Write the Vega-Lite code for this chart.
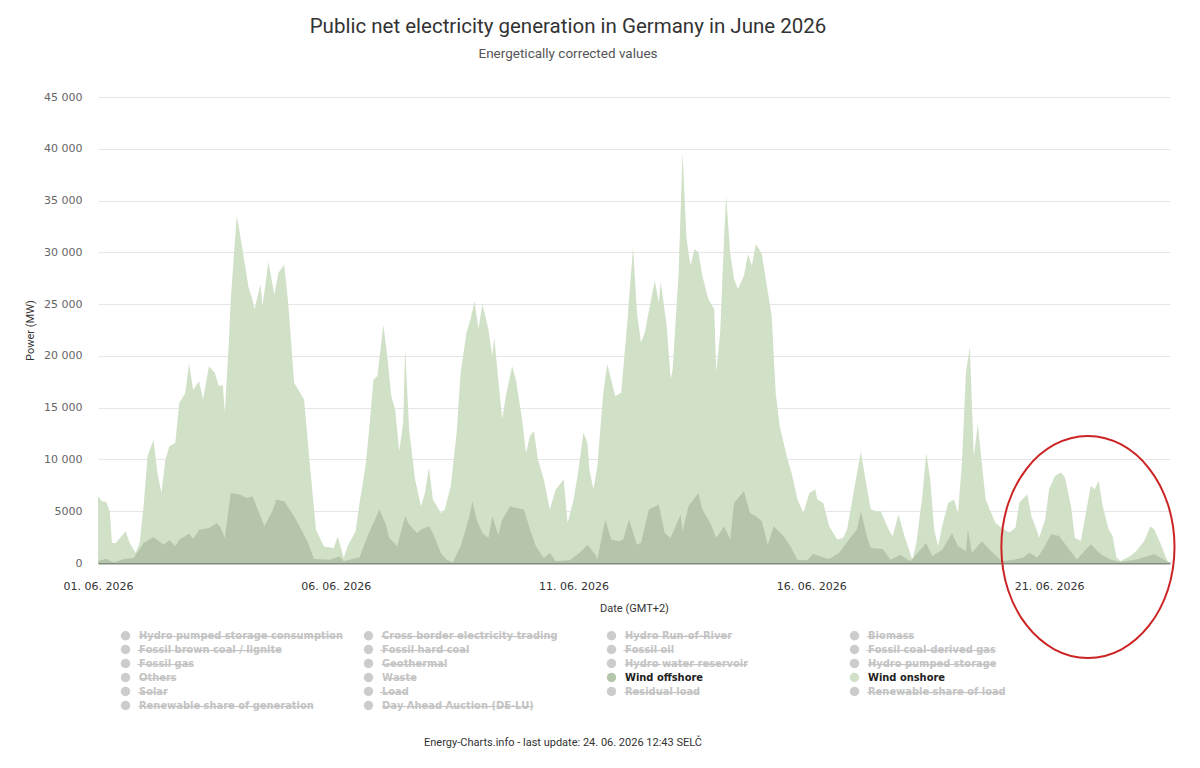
{
  "$schema": "https://vega.github.io/schema/vega-lite/v6.json",
  "width": 1072,
  "height": 466,
  "autosize": {"type": "none"},
  "padding": {"left": 98, "top": 97, "right": 30, "bottom": 205},
  "background": "white",
  "title": {
    "text": "Public net electricity generation in Germany in June 2026",
    "subtitle": "Energetically corrected values",
    "font": "Roboto",
    "fontSize": 20.5,
    "fontWeight": "normal",
    "color": "#333333",
    "subtitleFont": "Roboto",
    "subtitleFontSize": 13.5,
    "subtitleColor": "#555555",
    "subtitlePadding": 9,
    "anchor": "middle",
    "dx": -66,
    "offset": 31
  },
  "datasets": {
    "wind": [
      {"t": "2026-06-01T00:00", "mw": 6440}, {"t": "2026-06-01T02:00", "mw": 5950}, {"t": "2026-06-01T04:00", "mw": 5950},
      {"t": "2026-06-01T06:00", "mw": 5000}, {"t": "2026-06-01T07:00", "mw": 1930}, {"t": "2026-06-01T09:00", "mw": 1930},
      {"t": "2026-06-01T14:00", "mw": 3060}, {"t": "2026-06-01T16:00", "mw": 1930}, {"t": "2026-06-01T19:00", "mw": 970},
      {"t": "2026-06-01T21:00", "mw": 1930}, {"t": "2026-06-01T23:00", "mw": 5470}, {"t": "2026-06-02T01:00", "mw": 10300},
      {"t": "2026-06-02T04:00", "mw": 11900}, {"t": "2026-06-02T06:00", "mw": 8700}, {"t": "2026-06-02T08:00", "mw": 6760},
      {"t": "2026-06-02T10:00", "mw": 9980}, {"t": "2026-06-02T12:00", "mw": 11270}, {"t": "2026-06-02T15:00", "mw": 11600},
      {"t": "2026-06-02T17:00", "mw": 15450}, {"t": "2026-06-02T20:00", "mw": 16400}, {"t": "2026-06-02T22:00", "mw": 19300},
      {"t": "2026-06-03T00:00", "mw": 16700}, {"t": "2026-06-03T03:00", "mw": 17550}, {"t": "2026-06-03T05:00", "mw": 15800},
      {"t": "2026-06-03T08:00", "mw": 19000}, {"t": "2026-06-03T11:00", "mw": 18350}, {"t": "2026-06-03T13:00", "mw": 17060},
      {"t": "2026-06-03T15:00", "mw": 17200}, {"t": "2026-06-03T16:00", "mw": 14500}, {"t": "2026-06-03T18:00", "mw": 21250},
      {"t": "2026-06-03T19:00", "mw": 25400}, {"t": "2026-06-03T22:00", "mw": 33500}, {"t": "2026-06-03T23:00", "mw": 32500},
      {"t": "2026-06-04T02:00", "mw": 29000}, {"t": "2026-06-04T04:00", "mw": 26600}, {"t": "2026-06-04T06:00", "mw": 25400},
      {"t": "2026-06-04T07:00", "mw": 24500}, {"t": "2026-06-04T10:00", "mw": 26900}, {"t": "2026-06-04T11:00", "mw": 24800},
      {"t": "2026-06-04T14:00", "mw": 29100}, {"t": "2026-06-04T17:00", "mw": 25900}, {"t": "2026-06-04T19:00", "mw": 28000},
      {"t": "2026-06-04T22:00", "mw": 28800}, {"t": "2026-06-05T00:00", "mw": 25100}, {"t": "2026-06-05T03:00", "mw": 17400},
      {"t": "2026-06-05T08:00", "mw": 15800}, {"t": "2026-06-05T11:00", "mw": 9340}, {"t": "2026-06-05T14:00", "mw": 3220},
      {"t": "2026-06-05T18:00", "mw": 1600}, {"t": "2026-06-05T23:00", "mw": 1450}, {"t": "2026-06-06T01:00", "mw": 2580},
      {"t": "2026-06-06T04:00", "mw": 480}, {"t": "2026-06-06T06:00", "mw": 1610}, {"t": "2026-06-06T10:00", "mw": 3060},
      {"t": "2026-06-06T12:00", "mw": 5800}, {"t": "2026-06-06T15:00", "mw": 9350}, {"t": "2026-06-06T17:00", "mw": 13200},
      {"t": "2026-06-06T19:00", "mw": 17700}, {"t": "2026-06-06T21:00", "mw": 18050}, {"t": "2026-06-07T00:00", "mw": 23000},
      {"t": "2026-06-07T02:00", "mw": 20000}, {"t": "2026-06-07T04:00", "mw": 16100}, {"t": "2026-06-07T06:00", "mw": 14800},
      {"t": "2026-06-07T08:00", "mw": 10800}, {"t": "2026-06-07T10:00", "mw": 13500}, {"t": "2026-06-07T11:00", "mw": 20800},
      {"t": "2026-06-07T13:00", "mw": 12900}, {"t": "2026-06-07T16:00", "mw": 8060}, {"t": "2026-06-07T19:00", "mw": 5480},
      {"t": "2026-06-07T21:00", "mw": 6770}, {"t": "2026-06-07T23:00", "mw": 9190}, {"t": "2026-06-08T01:00", "mw": 6130},
      {"t": "2026-06-08T05:00", "mw": 4840}, {"t": "2026-06-08T07:00", "mw": 5160}, {"t": "2026-06-08T10:00", "mw": 7420},
      {"t": "2026-06-08T13:00", "mw": 12580}, {"t": "2026-06-08T15:00", "mw": 18400}, {"t": "2026-06-08T18:00", "mw": 22260},
      {"t": "2026-06-08T20:00", "mw": 23550}, {"t": "2026-06-08T22:00", "mw": 25300}, {"t": "2026-06-09T00:00", "mw": 22600},
      {"t": "2026-06-09T02:00", "mw": 25000}, {"t": "2026-06-09T05:00", "mw": 22600}, {"t": "2026-06-09T07:00", "mw": 20000},
      {"t": "2026-06-09T08:00", "mw": 21800}, {"t": "2026-06-09T10:00", "mw": 17700}, {"t": "2026-06-09T12:00", "mw": 13870},
      {"t": "2026-06-09T14:00", "mw": 16300}, {"t": "2026-06-09T17:00", "mw": 19000}, {"t": "2026-06-09T19:00", "mw": 17600},
      {"t": "2026-06-09T22:00", "mw": 13870}, {"t": "2026-06-10T00:00", "mw": 10600}, {"t": "2026-06-10T02:00", "mw": 12260},
      {"t": "2026-06-10T04:00", "mw": 12740}, {"t": "2026-06-10T06:00", "mw": 10000}, {"t": "2026-06-10T09:00", "mw": 8060},
      {"t": "2026-06-10T12:00", "mw": 5160}, {"t": "2026-06-10T15:00", "mw": 7100}, {"t": "2026-06-10T19:00", "mw": 8060},
      {"t": "2026-06-10T21:00", "mw": 3870}, {"t": "2026-06-11T00:00", "mw": 6130}, {"t": "2026-06-11T02:00", "mw": 8390},
      {"t": "2026-06-11T05:00", "mw": 12580}, {"t": "2026-06-11T07:00", "mw": 11600}, {"t": "2026-06-11T08:00", "mw": 9030},
      {"t": "2026-06-11T10:00", "mw": 7100}, {"t": "2026-06-11T12:00", "mw": 9350}, {"t": "2026-06-11T15:00", "mw": 16450},
      {"t": "2026-06-11T17:00", "mw": 19200}, {"t": "2026-06-11T19:00", "mw": 17700}, {"t": "2026-06-11T21:00", "mw": 16100},
      {"t": "2026-06-12T00:00", "mw": 16450}, {"t": "2026-06-12T03:00", "mw": 22900}, {"t": "2026-06-12T06:00", "mw": 30500},
      {"t": "2026-06-12T08:00", "mw": 24200}, {"t": "2026-06-12T10:00", "mw": 21300}, {"t": "2026-06-12T12:00", "mw": 22260},
      {"t": "2026-06-12T14:00", "mw": 24360}, {"t": "2026-06-12T17:00", "mw": 27260}, {"t": "2026-06-12T19:00", "mw": 25160},
      {"t": "2026-06-12T20:00", "mw": 27100}, {"t": "2026-06-12T23:00", "mw": 22900}, {"t": "2026-06-13T01:00", "mw": 17740},
      {"t": "2026-06-13T02:00", "mw": 18700}, {"t": "2026-06-13T05:00", "mw": 28000}, {"t": "2026-06-13T07:00", "mw": 39700},
      {"t": "2026-06-13T09:00", "mw": 31300}, {"t": "2026-06-13T11:00", "mw": 28700}, {"t": "2026-06-13T13:00", "mw": 30300},
      {"t": "2026-06-13T15:00", "mw": 30000}, {"t": "2026-06-13T17:00", "mw": 27740}, {"t": "2026-06-13T20:00", "mw": 25500},
      {"t": "2026-06-13T23:00", "mw": 24500}, {"t": "2026-06-14T00:00", "mw": 18400}, {"t": "2026-06-14T02:00", "mw": 22260},
      {"t": "2026-06-14T04:00", "mw": 31600}, {"t": "2026-06-14T05:00", "mw": 35500}, {"t": "2026-06-14T07:00", "mw": 30000},
      {"t": "2026-06-14T09:00", "mw": 27400}, {"t": "2026-06-14T11:00", "mw": 26450}, {"t": "2026-06-14T14:00", "mw": 27740},
      {"t": "2026-06-14T16:00", "mw": 29840}, {"t": "2026-06-14T18:00", "mw": 28700}, {"t": "2026-06-14T20:00", "mw": 30800},
      {"t": "2026-06-14T23:00", "mw": 29840}, {"t": "2026-06-15T01:00", "mw": 27400}, {"t": "2026-06-15T04:00", "mw": 23870},
      {"t": "2026-06-15T06:00", "mw": 16450}, {"t": "2026-06-15T08:00", "mw": 13230}, {"t": "2026-06-15T12:00", "mw": 10000},
      {"t": "2026-06-15T14:00", "mw": 8710}, {"t": "2026-06-15T17:00", "mw": 6130}, {"t": "2026-06-15T20:00", "mw": 4840},
      {"t": "2026-06-15T23:00", "mw": 6770}, {"t": "2026-06-16T02:00", "mw": 7100}, {"t": "2026-06-16T03:00", "mw": 6130},
      {"t": "2026-06-16T06:00", "mw": 5800}, {"t": "2026-06-16T09:00", "mw": 3550}, {"t": "2026-06-16T13:00", "mw": 2260},
      {"t": "2026-06-16T16:00", "mw": 2420}, {"t": "2026-06-16T18:00", "mw": 3230}, {"t": "2026-06-16T21:00", "mw": 6450},
      {"t": "2026-06-17T01:00", "mw": 10800}, {"t": "2026-06-17T03:00", "mw": 8390}, {"t": "2026-06-17T06:00", "mw": 5160},
      {"t": "2026-06-17T09:00", "mw": 5000}, {"t": "2026-06-17T11:00", "mw": 5000}, {"t": "2026-06-17T15:00", "mw": 3230},
      {"t": "2026-06-17T17:00", "mw": 2580}, {"t": "2026-06-17T20:00", "mw": 4680}, {"t": "2026-06-17T23:00", "mw": 2580},
      {"t": "2026-06-18T03:00", "mw": 320}, {"t": "2026-06-18T05:00", "mw": 1940}, {"t": "2026-06-18T08:00", "mw": 6450},
      {"t": "2026-06-18T10:00", "mw": 10650}, {"t": "2026-06-18T12:00", "mw": 8060}, {"t": "2026-06-18T14:00", "mw": 3230},
      {"t": "2026-06-18T16:00", "mw": 1610}, {"t": "2026-06-18T18:00", "mw": 3550}, {"t": "2026-06-18T21:00", "mw": 5800},
      {"t": "2026-06-19T00:00", "mw": 6130}, {"t": "2026-06-19T02:00", "mw": 4840}, {"t": "2026-06-19T04:00", "mw": 9680},
      {"t": "2026-06-19T06:00", "mw": 18400}, {"t": "2026-06-19T08:00", "mw": 20800}, {"t": "2026-06-19T10:00", "mw": 10300},
      {"t": "2026-06-19T12:00", "mw": 13400}, {"t": "2026-06-19T14:00", "mw": 9680}, {"t": "2026-06-19T16:00", "mw": 6130},
      {"t": "2026-06-19T18:00", "mw": 5160}, {"t": "2026-06-19T21:00", "mw": 3870}, {"t": "2026-06-19T23:00", "mw": 3550},
      {"t": "2026-06-20T01:00", "mw": 3260}, {"t": "2026-06-20T04:00", "mw": 2940}, {"t": "2026-06-20T07:00", "mw": 3420},
      {"t": "2026-06-20T09:00", "mw": 5840}, {"t": "2026-06-20T13:00", "mw": 6650}, {"t": "2026-06-20T15:00", "mw": 4550},
      {"t": "2026-06-20T17:00", "mw": 3580}, {"t": "2026-06-20T19:00", "mw": 2450}, {"t": "2026-06-20T22:00", "mw": 4230},
      {"t": "2026-06-21T00:00", "mw": 7130}, {"t": "2026-06-21T03:00", "mw": 8420}, {"t": "2026-06-21T06:00", "mw": 8740},
      {"t": "2026-06-21T08:00", "mw": 8260}, {"t": "2026-06-21T11:00", "mw": 5520}, {"t": "2026-06-21T13:00", "mw": 2450},
      {"t": "2026-06-21T16:00", "mw": 2130}, {"t": "2026-06-21T18:00", "mw": 4230}, {"t": "2026-06-21T21:00", "mw": 7450},
      {"t": "2026-06-21T23:00", "mw": 7130}, {"t": "2026-06-22T01:00", "mw": 7940}, {"t": "2026-06-22T03:00", "mw": 5520},
      {"t": "2026-06-22T06:00", "mw": 3260}, {"t": "2026-06-22T08:00", "mw": 2610}, {"t": "2026-06-22T10:00", "mw": 520},
      {"t": "2026-06-22T12:00", "mw": 190}, {"t": "2026-06-22T17:00", "mw": 680}, {"t": "2026-06-22T20:00", "mw": 1160},
      {"t": "2026-06-23T00:00", "mw": 2130}, {"t": "2026-06-23T03:00", "mw": 3520}, {"t": "2026-06-23T05:00", "mw": 3260},
      {"t": "2026-06-23T08:00", "mw": 1970}, {"t": "2026-06-23T11:00", "mw": 520}, {"t": "2026-06-23T12:00", "mw": 100}
    ],
    "offshore": [
      {"t": "2026-06-01T00:00", "mw": 160}, {"t": "2026-06-01T04:00", "mw": 420}, {"t": "2026-06-01T08:00", "mw": 60},
      {"t": "2026-06-01T13:00", "mw": 390}, {"t": "2026-06-01T18:00", "mw": 480}, {"t": "2026-06-01T23:00", "mw": 1930},
      {"t": "2026-06-02T04:00", "mw": 2500}, {"t": "2026-06-02T09:00", "mw": 1770}, {"t": "2026-06-02T12:00", "mw": 2190},
      {"t": "2026-06-02T15:00", "mw": 1610}, {"t": "2026-06-02T17:00", "mw": 2250}, {"t": "2026-06-02T22:00", "mw": 2830},
      {"t": "2026-06-03T00:00", "mw": 2320}, {"t": "2026-06-03T03:00", "mw": 3220}, {"t": "2026-06-03T08:00", "mw": 3380},
      {"t": "2026-06-03T12:00", "mw": 3860}, {"t": "2026-06-03T14:00", "mw": 3380}, {"t": "2026-06-03T16:00", "mw": 2410},
      {"t": "2026-06-03T19:00", "mw": 6760}, {"t": "2026-06-04T00:00", "mw": 6600}, {"t": "2026-06-04T03:00", "mw": 6280},
      {"t": "2026-06-04T06:00", "mw": 6440}, {"t": "2026-06-04T09:00", "mw": 5000}, {"t": "2026-06-04T12:00", "mw": 3540},
      {"t": "2026-06-04T16:00", "mw": 5000}, {"t": "2026-06-04T18:00", "mw": 6120}, {"t": "2026-06-04T22:00", "mw": 5960},
      {"t": "2026-06-05T03:00", "mw": 4500}, {"t": "2026-06-05T07:00", "mw": 3060}, {"t": "2026-06-05T10:00", "mw": 1930},
      {"t": "2026-06-05T13:00", "mw": 390}, {"t": "2026-06-05T21:00", "mw": 320}, {"t": "2026-06-06T02:00", "mw": 640},
      {"t": "2026-06-06T04:00", "mw": 160}, {"t": "2026-06-06T12:00", "mw": 550}, {"t": "2026-06-06T16:00", "mw": 2580},
      {"t": "2026-06-06T19:00", "mw": 3870}, {"t": "2026-06-06T22:00", "mw": 5160}, {"t": "2026-06-07T01:00", "mw": 3870},
      {"t": "2026-06-07T03:00", "mw": 2420}, {"t": "2026-06-07T07:00", "mw": 1610}, {"t": "2026-06-07T11:00", "mw": 4520},
      {"t": "2026-06-07T13:00", "mw": 3710}, {"t": "2026-06-07T17:00", "mw": 2900}, {"t": "2026-06-07T19:00", "mw": 3230},
      {"t": "2026-06-07T23:00", "mw": 3550}, {"t": "2026-06-08T01:00", "mw": 2900}, {"t": "2026-06-08T05:00", "mw": 970},
      {"t": "2026-06-08T08:00", "mw": 320}, {"t": "2026-06-08T11:00", "mw": 60}, {"t": "2026-06-08T15:00", "mw": 1610},
      {"t": "2026-06-08T19:00", "mw": 4190}, {"t": "2026-06-08T21:00", "mw": 5970}, {"t": "2026-06-08T23:00", "mw": 4190},
      {"t": "2026-06-09T02:00", "mw": 2900}, {"t": "2026-06-09T05:00", "mw": 2420}, {"t": "2026-06-09T07:00", "mw": 4520},
      {"t": "2026-06-09T10:00", "mw": 2740}, {"t": "2026-06-09T12:00", "mw": 4190}, {"t": "2026-06-09T16:00", "mw": 5480},
      {"t": "2026-06-09T19:00", "mw": 5320}, {"t": "2026-06-09T23:00", "mw": 5160}, {"t": "2026-06-10T02:00", "mw": 3230},
      {"t": "2026-06-10T05:00", "mw": 1610}, {"t": "2026-06-10T09:00", "mw": 480}, {"t": "2026-06-10T12:00", "mw": 970},
      {"t": "2026-06-10T15:00", "mw": 160}, {"t": "2026-06-10T22:00", "mw": 260}, {"t": "2026-06-11T03:00", "mw": 970},
      {"t": "2026-06-11T07:00", "mw": 1770}, {"t": "2026-06-11T11:00", "mw": 800}, {"t": "2026-06-11T12:00", "mw": 320},
      {"t": "2026-06-11T16:00", "mw": 4190}, {"t": "2026-06-11T19:00", "mw": 2260}, {"t": "2026-06-11T23:00", "mw": 2100},
      {"t": "2026-06-12T01:00", "mw": 2260}, {"t": "2026-06-12T04:00", "mw": 4190}, {"t": "2026-06-12T08:00", "mw": 1770},
      {"t": "2026-06-12T10:00", "mw": 1940}, {"t": "2026-06-12T14:00", "mw": 5160}, {"t": "2026-06-12T19:00", "mw": 5650},
      {"t": "2026-06-12T22:00", "mw": 2900}, {"t": "2026-06-13T01:00", "mw": 2420}, {"t": "2026-06-13T06:00", "mw": 4680},
      {"t": "2026-06-13T07:00", "mw": 3060}, {"t": "2026-06-13T10:00", "mw": 5480}, {"t": "2026-06-13T15:00", "mw": 6770},
      {"t": "2026-06-13T17:00", "mw": 5160}, {"t": "2026-06-13T21:00", "mw": 3870}, {"t": "2026-06-14T00:00", "mw": 2420},
      {"t": "2026-06-14T04:00", "mw": 3550}, {"t": "2026-06-14T07:00", "mw": 2260}, {"t": "2026-06-14T09:00", "mw": 5800},
      {"t": "2026-06-14T14:00", "mw": 6940}, {"t": "2026-06-14T17:00", "mw": 4840}, {"t": "2026-06-14T20:00", "mw": 4520},
      {"t": "2026-06-14T23:00", "mw": 4030}, {"t": "2026-06-15T02:00", "mw": 1770}, {"t": "2026-06-15T05:00", "mw": 3550},
      {"t": "2026-06-15T10:00", "mw": 2580}, {"t": "2026-06-15T13:00", "mw": 1770}, {"t": "2026-06-15T17:00", "mw": 320},
      {"t": "2026-06-15T22:00", "mw": 260}, {"t": "2026-06-16T01:00", "mw": 900}, {"t": "2026-06-16T04:00", "mw": 650},
      {"t": "2026-06-16T09:00", "mw": 390}, {"t": "2026-06-16T14:00", "mw": 970}, {"t": "2026-06-16T19:00", "mw": 2260},
      {"t": "2026-06-16T23:00", "mw": 3230}, {"t": "2026-06-17T01:00", "mw": 5000}, {"t": "2026-06-17T04:00", "mw": 2580},
      {"t": "2026-06-17T06:00", "mw": 1450}, {"t": "2026-06-17T12:00", "mw": 1350}, {"t": "2026-06-17T16:00", "mw": 320},
      {"t": "2026-06-17T21:00", "mw": 800}, {"t": "2026-06-18T02:00", "mw": 160}, {"t": "2026-06-18T07:00", "mw": 1290},
      {"t": "2026-06-18T10:00", "mw": 1940}, {"t": "2026-06-18T13:00", "mw": 640}, {"t": "2026-06-18T18:00", "mw": 1290},
      {"t": "2026-06-18T23:00", "mw": 2900}, {"t": "2026-06-19T02:00", "mw": 1610}, {"t": "2026-06-19T06:00", "mw": 1130},
      {"t": "2026-06-19T07:00", "mw": 3230}, {"t": "2026-06-19T09:00", "mw": 970}, {"t": "2026-06-19T14:00", "mw": 2100},
      {"t": "2026-06-19T18:00", "mw": 1290}, {"t": "2026-06-19T23:00", "mw": 390}, {"t": "2026-06-20T01:00", "mw": 190},
      {"t": "2026-06-20T07:00", "mw": 350}, {"t": "2026-06-20T11:00", "mw": 520}, {"t": "2026-06-20T14:00", "mw": 1000},
      {"t": "2026-06-20T18:00", "mw": 520}, {"t": "2026-06-20T21:00", "mw": 1320}, {"t": "2026-06-21T01:00", "mw": 2770},
      {"t": "2026-06-21T05:00", "mw": 2610}, {"t": "2026-06-21T10:00", "mw": 1320}, {"t": "2026-06-21T14:00", "mw": 350},
      {"t": "2026-06-21T21:00", "mw": 1800}, {"t": "2026-06-22T02:00", "mw": 840}, {"t": "2026-06-22T07:00", "mw": 350},
      {"t": "2026-06-22T12:00", "mw": 100}, {"t": "2026-06-22T20:00", "mw": 350}, {"t": "2026-06-23T05:00", "mw": 840},
      {"t": "2026-06-23T10:00", "mw": 350}, {"t": "2026-06-23T12:00", "mw": 80}
    ],
    "marker": [
      {"t": "2026-06-21T19:35", "mw": 1545}
    ]
  },
  "encoding": {
    "x": {
      "field": "t",
      "type": "temporal",
      "scale": {
        "domain": [
          {"year": 2026, "month": 6, "date": 1},
          {"year": 2026, "month": 6, "date": 23, "hours": 13}
        ]
      },
      "axis": {
        "values": [
          {"year": 2026, "month": 6, "date": 1},
          {"year": 2026, "month": 6, "date": 6},
          {"year": 2026, "month": 6, "date": 11},
          {"year": 2026, "month": 6, "date": 16},
          {"year": 2026, "month": 6, "date": 21}
        ],
        "format": "%d. %m. %Y",
        "labelFlush": false,
        "labelFont": "DejaVu Sans",
        "labelFontSize": 11,
        "labelColor": "#333333",
        "labelPadding": 17,
        "ticks": false,
        "grid": false,
        "domainColor": "#7f8b7c",
        "domainWidth": 2,
        "title": "Date (GMT+2)",
        "titleFont": "Roboto",
        "titleFontSize": 11,
        "titleFontWeight": "normal",
        "titleColor": "#333333",
        "titlePadding": 11
      }
    },
    "y": {
      "field": "mw",
      "type": "quantitative",
      "scale": {"domain": [0, 45000], "nice": false},
      "axis": {
        "values": [0, 5000, 10000, 15000, 20000, 25000, 30000, 35000, 40000, 45000],
        "labelExpr": "datum.value >= 10000 ? replace(format(datum.value, ','), ',', ' ') : format(datum.value, 'd')",
        "labelFont": "DejaVu Sans",
        "labelFontSize": 11,
        "labelColor": "#666666",
        "labelPadding": 16,
        "ticks": false,
        "domain": false,
        "gridColor": "#e6e6e6",
        "title": "Power (MW)",
        "titleFont": "Roboto",
        "titleFontSize": 11,
        "titleFontWeight": "normal",
        "titleColor": "#333333",
        "titlePadding": 8
      }
    }
  },
  "layer": [
    {
      "data": {"name": "wind"},
      "mark": {"type": "area", "opacity": 1},
      "encoding": {
        "color": {
          "datum": "Wind onshore",
          "type": "nominal",
          "scale": {
            "domain": [
              "Hydro pumped storage consumption", "Cross border electricity trading", "Hydro Run-of-River", "Biomass",
              "Fossil brown coal / lignite", "Fossil hard coal", "Fossil oil", "Fossil coal-derived gas",
              "Fossil gas", "Geothermal", "Hydro water reservoir", "Hydro pumped storage",
              "Others", "Waste", "Wind offshore", "Wind onshore",
              "Solar", "Load", "Residual load", "Renewable share of load",
              "Renewable share of generation", "Day Ahead Auction (DE-LU)"
            ],
            "range": [
              "#cccccc", "#cccccc", "#cccccc", "#cccccc",
              "#cccccc", "#cccccc", "#cccccc", "#cccccc",
              "#cccccc", "#cccccc", "#cccccc", "#cccccc",
              "#cccccc", "#cccccc", "#b5c5ab", "#d0e1c8",
              "#cccccc", "#cccccc", "#cccccc", "#cccccc",
              "#cccccc", "#cccccc"
            ]
          },
          "legend": {
            "orient": "none",
            "legendX": 22,
            "legendY": 533,
            "direction": "horizontal",
            "columns": 4,
            "gridAlign": "all",
            "columnPadding": 20,
            "rowPadding": 2,
            "symbolType": "circle",
            "symbolSize": 90,
            "symbolStrokeWidth": 1.5,
            "labelFont": "DejaVu Sans Condensed, DejaVu Sans",
            "labelFontSize": 11,
            "labelFontWeight": "bold",
            "labelOffset": 8,
            "labelLimit": 0,
            "labelColor": {"expr": "indexof(['Wind offshore', 'Wind onshore'], datum.value) >= 0 ? '#222222' : '#c4c4c4'"},
            "labelExpr": "indexof(['Wind offshore', 'Wind onshore'], datum.label) >= 0 ? datum.label : join(split(datum.label, ''), '\u0336') + '\u0336'",
            "title": "Energy-Charts.info - last update: 24. 06. 2026 12:43 SELČ",
            "titleOrient": "bottom",
            "titleAnchor": "middle",
            "titleFont": "Roboto",
            "titleFontSize": 11,
            "titleFontWeight": "normal",
            "titleColor": "#333333",
            "titlePadding": 26,
            "titleLimit": 0,
            "encode": {
              "title": {
                "update": {"dx": {"value": 30}}
              },
              "symbols": {
                "update": {
                  "shape": {"signal": "indexof(['Load', 'Residual load', 'Renewable share of load', 'Renewable share of generation', 'Day Ahead Auction (DE-LU)'], datum.value) >= 0 ? 'stroke' : 'circle'"},
                  "fill": {"signal": "datum.value == 'Wind offshore' ? '#8fa585' : datum.value == 'Wind onshore' ? '#c5dbb8' : '#cccccc'"},
                  "stroke": {"signal": "datum.value == 'Wind offshore' ? '#8fa585' : datum.value == 'Wind onshore' ? '#c5dbb8' : '#cccccc'"},
                  "opacity": {"value": 1}
                }
              }
            }
          }
        }
      }
    },
    {
      "data": {"name": "offshore"},
      "mark": {"type": "area", "opacity": 1},
      "encoding": {
        "color": {"datum": "Wind offshore", "type": "nominal"}
      }
    },
    {
      "data": {"name": "marker"},
      "mark": {
        "type": "point",
        "shape": "M -0.78 0 A 0.78 1 0 1 0 0.78 0 A 0.78 1 0 1 0 -0.78 0 Z",
        "size": 49284,
        "filled": false,
        "color": "#cc2424",
        "strokeWidth": 2,
        "opacity": 1
      }
    }
  ],
  "config": {
    "view": {"stroke": null},
    "font": "Roboto"
  }
}
